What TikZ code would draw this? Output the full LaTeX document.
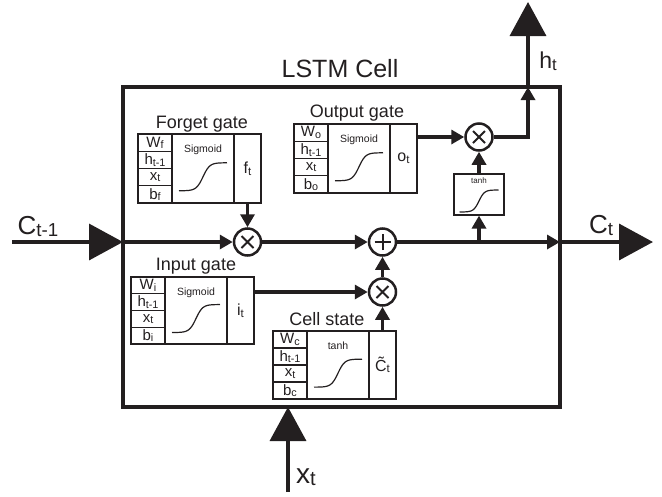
\documentclass[tikz,border=0pt]{standalone}
\usepackage{fontspec}
\setmainfont{Liberation Sans}
\usepackage{tikz}
\usetikzlibrary{arrows.meta, positioning, calc}
\usepackage{xcolor}
\definecolor{ink}{RGB}{35,31,32}

\newcommand{\subtxt}[1]{\raisebox{-0.1em}{\scalebox{0.72}{#1}}}

\tikzset{
  flow/.style={ink, line width=3.5pt, -{Triangle[length=13pt,width=14pt]}},
  bigflow/.style={ink, line width=3.5pt, -{Triangle[length=34pt,width=36pt]}},
  opnode/.style={circle, draw=ink, line width=2.5pt, minimum size=27pt, inner sep=0pt, fill=white},
  mulnode/.style={opnode, path picture={
    \draw[ink, line width=2pt] (path picture bounding box.center) ++(-6pt,-6pt) -- ++(12pt,12pt)
      (path picture bounding box.center) ++(-6pt,6pt) -- ++(12pt,-12pt);}},
  addnode/.style={opnode, path picture={
    \draw[ink, line width=2pt] (path picture bounding box.center) ++(-8pt,0pt) -- ++(16pt,0pt)
      (path picture bounding box.center) ++(0pt,-8pt) -- ++(0pt,16pt);}},
  gatecell/.style={draw=ink, line width=1.2pt, inner sep=0pt, outer sep=0pt, anchor=north west},
  rowtext/.style={ink, font=\fontsize{15}{15}\selectfont, inner sep=0pt},
  fntext/.style={ink, font=\fontsize{10.5}{10.5}\selectfont, inner sep=0pt, anchor=base},
  outtext/.style={text=ink, font=\fontsize{16}{16}\selectfont},
  sshape/.style={ink, line width=1.2pt},
  title/.style={ink, font=\fontsize{18}{18}\selectfont, anchor=base, inner sep=0pt},
  biglabel/.style={ink, font=\fontsize{26}{26}\selectfont, anchor=base, inner sep=0pt},
}

% #1 name, #2 top left, #3 height, #4 index, #5 function, #6 output
\newcommand{\gatebox}[6]{%
  \node[gatecell, minimum width=34, minimum height=#3] (#1-in) at (#2) {};
  \node[gatecell, minimum width=62, minimum height=#3] (#1-fn) at (#1-in.north east) {};
  \node[gatecell, minimum width=27, minimum height=#3, outtext] (#1-out) at (#1-fn.north east) {#6};
  \foreach \k in {1,2,3}
    \draw[ink, line width=1.2pt] ($(#1-in.north west)!\k/4!(#1-in.south west)$) -- ($(#1-in.north east)!\k/4!(#1-in.south east)$);
  \node[rowtext] (#1-w) at ($(#1-in.north)!0.125!(#1-in.south)$) {W\subtxt{#4}};
  \node[rowtext] (#1-h) at ($(#1-in.north)!0.375!(#1-in.south)$) {h\subtxt{t-1}};
  \node[rowtext] (#1-x) at ($(#1-in.north)!0.625!(#1-in.south)$) {x\subtxt{t}};
  \node[rowtext] (#1-b) at ($(#1-in.north)!0.875!(#1-in.south)$) {b\subtxt{#4}};
  \node[fntext] (#1-fname) at ($(#1-fn.north)+(0,18)$) {#5};
  \draw[sshape, shift={($(#1-fn.north)!0.62!(#1-fn.south)$)}]
    plot[domain=-3:3, samples=40] ({8*\x}, {-14*tanh(1.2*\x)});
}

\begin{document}
\begin{tikzpicture}[x=1pt, y=-1pt]
  \useasboundingbox (0,0) rectangle (662,496);

  \node[draw=ink, line width=3.5pt, minimum width=437, minimum height=320, inner sep=0pt, outer sep=0pt] (cell) at (341.5,247) {};
  \node[biglabel, font=\fontsize{25}{25}\selectfont] (title) at (340,77) {LSTM Cell};

  \gatebox{forget}{138,134}{69}{f}{Sigmoid}{f\subtxt{t}}
  \gatebox{output}{294,124}{69}{o}{Sigmoid}{o\subtxt{t}}
  \gatebox{input}{131,277}{67}{i}{Sigmoid}{i\subtxt{t}}
  \gatebox{cstate}{273,331}{68}{c}{tanh}{\~{C}\subtxt{t}}

  \node[title] (forget-title) at (202,128) {Forget gate};
  \node[title] (output-title) at (357,117) {Output gate};
  \node[title] (input-title) at (196,270) {Input gate};
  \node[title] (cstate-title) at (327,325) {Cell state};

  \node[mulnode] (fmul) at (forget-out |- 0,242) {};
  \node[addnode] (add) at (cstate-out |- 0,242) {};
  \node[mulnode] (imul) at (cstate-out |- 0,292) {};
  \node[draw=ink, line width=1.2pt, minimum width=50, minimum height=41, inner sep=0pt] (squash) at (479,194.5) {};
  \node[fntext, font=\fontsize{8}{8}\selectfont] (squash-name) at ($(squash.north)+(0,10)$) {tanh};
  \draw[sshape, shift={($(squash.center)+(0,6.5)$)}]
    plot[domain=-3:3, samples=40] ({6.5*\x}, {-11*tanh(1.2*\x)});
  \node[mulnode] (omul) at (squash |- 0,137) {};

  \coordinate (cin) at (12,242);
  \coordinate (cleft) at (cell.west |- fmul);
  \coordinate (cright) at (cell.east |- fmul);
  \coordinate (cout) at (653,242);
  \coordinate (tap) at (squash |- fmul);
  \coordinate (ctop) at (cell.north -| 528,0);
  \coordinate (hout) at (528,2);
  \coordinate (xin) at (288,492);
  \coordinate (cbottom) at (cell.south -| xin);

  \draw[bigflow] (cin) -- (cleft);
  \draw[flow] (cleft) -- (fmul);
  \draw[flow] (fmul) -- (add);
  \draw[flow] (add) -- (cright);
  \draw[bigflow] (cright) -- (cout);
  \draw[flow] (forget-out) -- (fmul);
  \draw[flow] (input-out.east |- imul) -- (imul);
  \draw[flow] (cstate-out) -- (imul);
  \draw[flow] (imul) -- (add);
  \draw[flow] (output-out.east |- omul) -- (omul);
  \draw[flow] (tap) -- (squash);
  \draw[flow] (squash) -- (omul);
  \draw[flow] (omul) -| (ctop);
  \draw[bigflow] (ctop) -- (hout);
  \draw[bigflow] (xin) -- (cbottom);

  \node[biglabel] (cprev) at (38,234) {C\subtxt{t-1}};
  \node[biglabel] (cnext) at (601,233) {C\subtxt{t}};
  \node[biglabel, font=\fontsize{23}{23}\selectfont] (hlab) at (548,68) {h\subtxt{t}};
  \node[biglabel, font=\fontsize{28}{28}\selectfont] (xlab) at (306,483) {x\subtxt{t}};
\end{tikzpicture}
\end{document}
